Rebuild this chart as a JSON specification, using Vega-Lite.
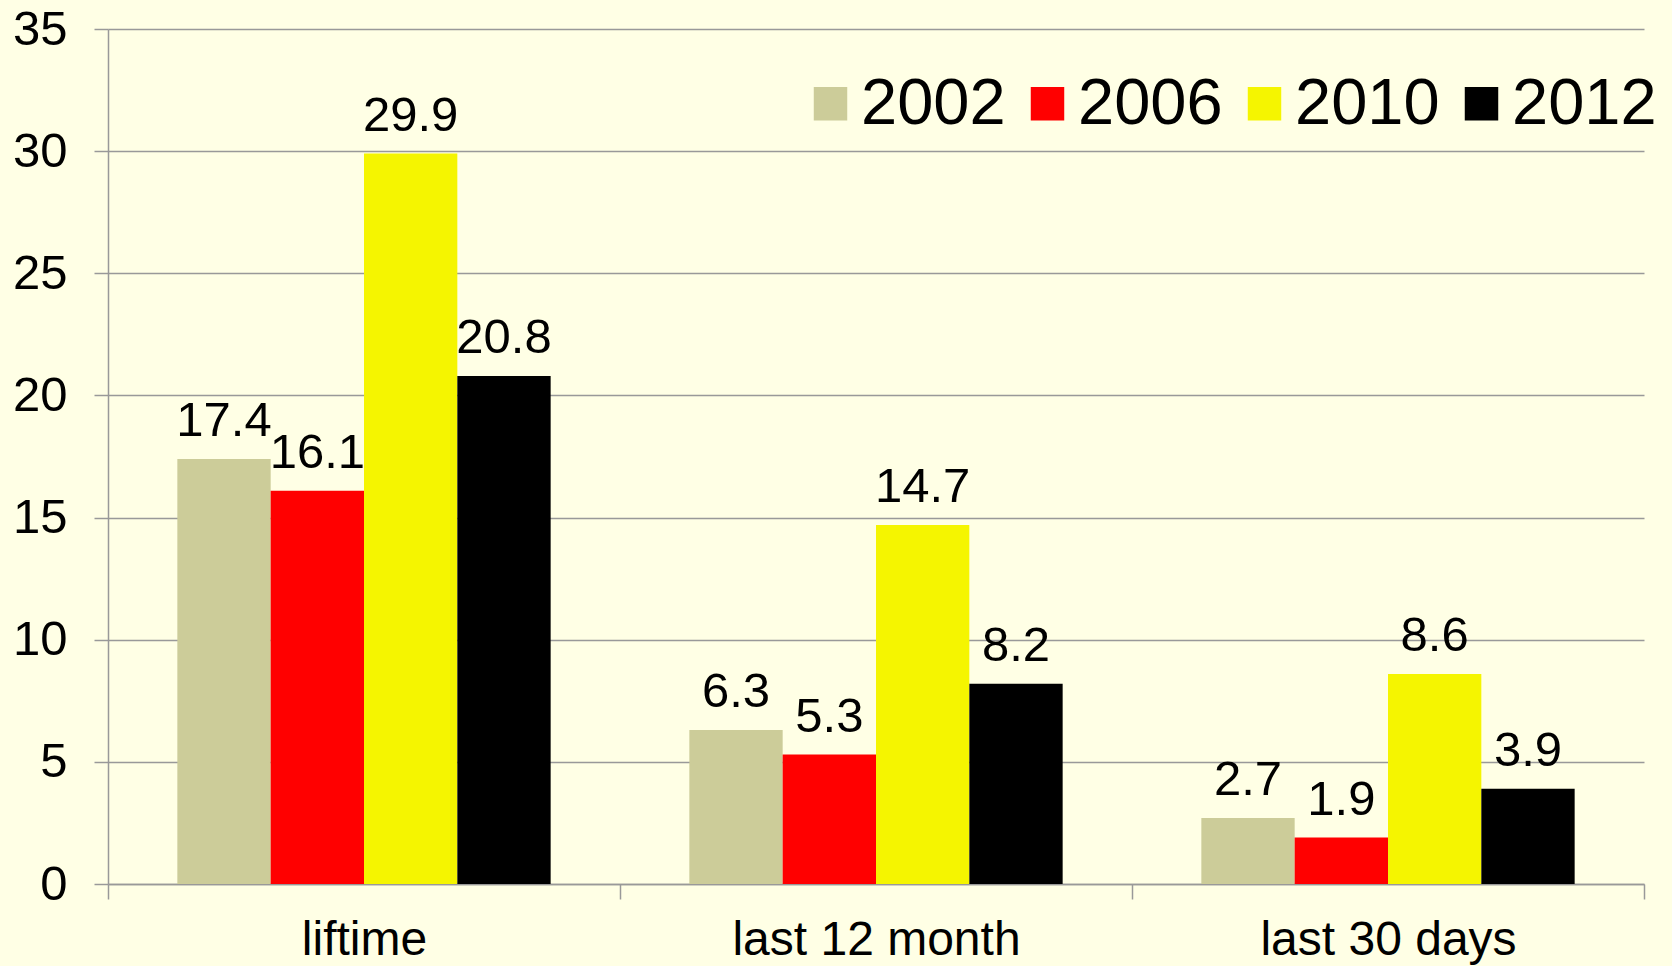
{
  "$schema": "https://vega.github.io/schema/vega-lite/v6.json",
  "autosize": {"type": "none"},
  "padding": {"left": 108, "top": 29, "right": 28, "bottom": 82},
  "width": 1536,
  "height": 855,
  "background": "#FFFFE5",
  "config": {
    "view": {"stroke": null},
    "font": "Liberation Sans",
    "axis": {"labelFont": "Liberation Sans", "labelColor": "#000000"}
  },
  "data": {
    "values": [
      {"period": "liftime", "year": "2002", "value": 17.4},
      {"period": "liftime", "year": "2006", "value": 16.1},
      {"period": "liftime", "year": "2010", "value": 29.9},
      {"period": "liftime", "year": "2012", "value": 20.8},
      {"period": "last 12 month", "year": "2002", "value": 6.3},
      {"period": "last 12 month", "year": "2006", "value": 5.3},
      {"period": "last 12 month", "year": "2010", "value": 14.7},
      {"period": "last 12 month", "year": "2012", "value": 8.2},
      {"period": "last 30 days", "year": "2002", "value": 2.7},
      {"period": "last 30 days", "year": "2006", "value": 1.9},
      {"period": "last 30 days", "year": "2010", "value": 8.6},
      {"period": "last 30 days", "year": "2012", "value": 3.9}
    ]
  },
  "encoding": {
    "x": {
      "field": "period",
      "type": "nominal",
      "sort": ["liftime", "last 12 month", "last 30 days"],
      "scale": {"paddingInner": 0, "paddingOuter": 0},
      "axis": {
        "title": null,
        "labelAngle": 0,
        "labelFontSize": 48,
        "labelLimit": 0,
        "labelBaseline": "alphabetic",
        "labelPadding": 55,
        "tickBand": "extent",
        "tickSize": 15,
        "tickColor": "#999999",
        "tickWidth": 1.5,
        "domainColor": "#999999",
        "domainWidth": 1.5,
        "grid": false
      }
    },
    "xOffset": {
      "field": "year",
      "type": "nominal",
      "scale": {"paddingInner": 0, "paddingOuter": 0.743}
    },
    "y": {
      "field": "value",
      "type": "quantitative",
      "scale": {"domain": [0, 35], "nice": false},
      "axis": {
        "title": null,
        "values": [0, 5, 10, 15, 20, 25, 30, 35],
        "labelFontSize": 49,
        "labelPadding": 27,
        "tickSize": 14,
        "tickColor": "#999999",
        "tickWidth": 1.5,
        "domainColor": "#999999",
        "domainWidth": 1.5,
        "grid": true,
        "gridColor": "#999999",
        "gridWidth": 1.5
      }
    }
  },
  "layer": [
    {
      "mark": {"type": "bar"},
      "encoding": {
        "color": {
          "field": "year",
          "type": "nominal",
          "scale": {
            "domain": ["2002", "2006", "2010", "2012"],
            "range": ["#CCCC99", "#FF0000", "#F5F500", "#000000"]
          },
          "legend": {
            "title": null,
            "orient": "none",
            "direction": "horizontal",
            "legendX": 690,
            "legendY": 42,
            "padding": 0,
            "symbolType": "square",
            "symbolSize": 1120,
            "symbolStrokeWidth": 0,
            "symbolOpacity": 1,
            "labelFontSize": 65,
            "labelLimit": 0,
            "labelFont": "Liberation Sans",
            "labelColor": "#000000",
            "labelOffset": -2,
            "columnPadding": 9
          }
        }
      }
    },
    {
      "mark": {
        "type": "text",
        "baseline": "alphabetic",
        "dy": -23,
        "fontSize": 49,
        "font": "Liberation Sans",
        "color": "#000000"
      },
      "encoding": {
        "text": {"field": "value", "type": "quantitative", "format": ".1f"}
      }
    }
  ]
}
